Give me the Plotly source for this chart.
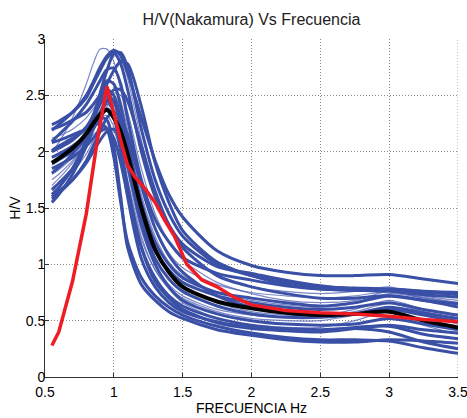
import plotly.graph_objects as go

# Frequency grid (Hz) shared by the blue curves and the mean curve
freq = [0.55, 0.6, 0.7, 0.8, 0.85, 0.9, 0.95, 1.0, 1.05, 1.1, 1.2, 1.3, 1.4, 1.5,
        1.75, 2.0, 2.25, 2.5, 2.75, 3.0, 3.25, 3.5]

# Individual H/V measurements (thick traces)
hv_thick = [
    [2.19, 2.24, 2.35, 2.5, 2.62, 2.75, 2.85, 2.9, 2.85, 2.7, 2.3, 1.92, 1.62, 1.42, 1.12, 0.99, 0.93, 0.9, 0.9, 0.91, 0.87, 0.83],
    [2.24, 2.27, 2.35, 2.48, 2.6, 2.72, 2.83, 2.88, 2.78, 2.55, 2.0, 1.6, 1.35, 1.18, 0.98, 0.92, 0.86, 0.81, 0.78, 0.77, 0.75, 0.74],
    [1.62, 1.68, 1.85, 2.1, 2.3, 2.52, 2.72, 2.87, 2.88, 2.75, 2.2, 1.75, 1.45, 1.25, 1.0, 0.9, 0.84, 0.8, 0.79, 0.78, 0.76, 0.75],
    [2.09, 2.15, 2.27, 2.42, 2.52, 2.63, 2.73, 2.74, 2.6, 2.3, 1.75, 1.4, 1.2, 1.06, 0.92, 0.86, 0.81, 0.78, 0.77, 0.78, 0.76, 0.73],
    [1.55, 1.62, 1.8, 2.05, 2.25, 2.48, 2.63, 2.6, 2.4, 2.1, 1.55, 1.2, 1.0, 0.88, 0.75, 0.7, 0.66, 0.63, 0.66, 0.72, 0.68, 0.62],
    [1.81, 1.86, 1.98, 2.15, 2.28, 2.42, 2.5, 2.45, 2.2, 1.9, 1.4, 1.05, 0.87, 0.76, 0.63, 0.56, 0.53, 0.53, 0.56, 0.62, 0.57, 0.52],
    [1.66, 1.72, 1.85, 2.05, 2.2, 2.35, 2.45, 2.35, 2.05, 1.7, 1.15, 0.85, 0.7, 0.6, 0.48, 0.43, 0.41, 0.4, 0.43, 0.46, 0.42, 0.39],
    [2.01, 2.05, 2.12, 2.2, 2.26, 2.3, 2.28, 2.05, 1.6, 1.15, 0.82, 0.68, 0.58, 0.52, 0.42, 0.37, 0.33, 0.31, 0.31, 0.33, 0.32, 0.30],
    [2.08, 2.1, 2.15, 2.2, 2.23, 2.25, 2.2, 1.95, 1.55, 1.2, 0.88, 0.72, 0.62, 0.55, 0.45, 0.39, 0.35, 0.33, 0.33, 0.32, 0.26, 0.21],
    [1.85, 1.88, 1.95, 2.05, 2.12, 2.18, 2.2, 2.12, 1.9, 1.62, 1.15, 0.88, 0.72, 0.63, 0.52, 0.46, 0.43, 0.42, 0.43, 0.4, 0.31, 0.25],
    [1.58, 1.63, 1.75, 1.92, 2.05, 2.18, 2.3, 2.35, 2.3, 2.15, 1.7, 1.32, 1.08, 0.93, 0.72, 0.62, 0.57, 0.55, 0.56, 0.6, 0.55, 0.49],
    [1.95, 1.98, 2.05, 2.15, 2.23, 2.33, 2.45, 2.55, 2.55, 2.45, 2.05, 1.65, 1.35, 1.15, 0.9, 0.8, 0.74, 0.7, 0.7, 0.72, 0.68, 0.65],
    [2.0, 2.03, 2.1, 2.22, 2.32, 2.45, 2.6, 2.72, 2.8, 2.78, 2.4, 1.9, 1.55, 1.3, 1.02, 0.9, 0.82, 0.78, 0.77, 0.76, 0.73, 0.71],
    [1.6, 1.65, 1.75, 1.9, 2.0, 2.1, 2.18, 2.2, 2.1, 1.88, 1.35, 1.0, 0.8, 0.68, 0.56, 0.5, 0.47, 0.46, 0.47, 0.52, 0.47, 0.42],
    [2.2, 2.22, 2.28, 2.35, 2.42, 2.5, 2.55, 2.5, 2.3, 2.0, 1.45, 1.12, 0.95, 0.84, 0.72, 0.66, 0.62, 0.6, 0.62, 0.66, 0.6, 0.55],
    [1.9, 1.93, 2.0, 2.12, 2.2, 2.3, 2.38, 2.3, 2.0, 1.6, 1.05, 0.8, 0.66, 0.58, 0.49, 0.44, 0.42, 0.41, 0.44, 0.45, 0.38, 0.34],
]

# Individual H/V measurements (thin traces)
hv_thin = [
    [2.0, 2.08, 2.3, 2.6, 2.78, 2.91, 2.91, 2.8, 2.55, 2.25, 1.68, 1.32, 1.1, 0.97, 0.82, 0.75, 0.72, 0.7, 0.72, 0.76, 0.71, 0.66],
    [1.75, 1.8, 1.92, 2.1, 2.22, 2.35, 2.42, 2.35, 2.12, 1.82, 1.3, 1.0, 0.82, 0.72, 0.6, 0.55, 0.53, 0.54, 0.6, 0.68, 0.6, 0.54],
    [1.7, 1.76, 1.9, 2.08, 2.2, 2.3, 2.32, 2.22, 1.98, 1.7, 1.22, 0.95, 0.8, 0.7, 0.58, 0.52, 0.5, 0.5, 0.55, 0.62, 0.55, 0.47],
    [1.88, 1.92, 2.02, 2.2, 2.35, 2.52, 2.62, 2.6, 2.45, 2.2, 1.62, 1.25, 1.02, 0.9, 0.75, 0.68, 0.64, 0.62, 0.65, 0.74, 0.7, 0.64],
    [2.12, 2.14, 2.2, 2.3, 2.38, 2.45, 2.48, 2.42, 2.25, 2.0, 1.5, 1.15, 0.95, 0.82, 0.66, 0.58, 0.55, 0.54, 0.58, 0.65, 0.58, 0.5],
    [1.68, 1.72, 1.82, 1.98, 2.1, 2.25, 2.4, 2.52, 2.5, 2.35, 1.85, 1.45, 1.2, 1.04, 0.84, 0.74, 0.68, 0.66, 0.68, 0.76, 0.7, 0.66],
    [1.95, 1.97, 2.02, 2.1, 2.15, 2.2, 2.22, 2.18, 2.0, 1.75, 1.25, 0.95, 0.78, 0.66, 0.52, 0.46, 0.44, 0.44, 0.5, 0.58, 0.46, 0.38],
    [1.8, 1.84, 1.95, 2.12, 2.28, 2.5, 2.72, 2.85, 2.82, 2.65, 2.1, 1.65, 1.35, 1.15, 0.9, 0.8, 0.76, 0.74, 0.76, 0.8, 0.72, 0.68],
]

# Mean H/V curve (black)
hv_mean = [1.9, 1.94, 2.03, 2.16, 2.25, 2.33, 2.37, 2.3, 2.18, 1.98, 1.5, 1.13, 0.93, 0.8,
           0.67, 0.61, 0.57, 0.55, 0.56, 0.58, 0.5, 0.44]

# Red reference curve
red_freq = [0.55, 0.6, 0.7, 0.8, 0.88, 0.95, 1.05, 1.1, 1.15, 1.22, 1.3, 1.37, 1.44, 1.53,
            1.64, 1.75, 1.87, 2.0, 2.25, 2.5, 2.75, 3.0, 3.25, 3.5]
red_hv = [0.28, 0.4, 0.85, 1.45, 2.1, 2.58, 2.1, 1.88, 1.78, 1.68, 1.55, 1.39, 1.25, 1.0,
          0.86, 0.8, 0.71, 0.64, 0.59, 0.57, 0.56, 0.54, 0.51, 0.49]

x_ticks = [0.5, 1.0, 1.5, 2.0, 2.5, 3.0, 3.5]
x_ticklabels = ["0.5", "1", "1.5", "2", "2.5", "3", "3.5"]
y_ticks = [0, 0.5, 1.0, 1.5, 2.0, 2.5, 3.0]
y_ticklabels = ["0", "0.5", "1", "1.5", "2", "2.5", "3"]

FONT = "Liberation Sans, Arial, sans-serif"

fig = go.Figure()
for ys in hv_thin:
    fig.add_trace(go.Scatter(x=freq, y=ys, mode="lines",
                             line=dict(color="rgba(80,95,180,0.75)", width=1.2, shape="spline", smoothing=0.8),
                             showlegend=False, hoverinfo="skip"))
for ys in hv_thick:
    fig.add_trace(go.Scatter(x=freq, y=ys, mode="lines",
                             line=dict(color="#3A50A6", width=3, shape="spline", smoothing=0.8),
                             showlegend=False, hoverinfo="skip"))
fig.add_trace(go.Scatter(x=freq, y=hv_mean, mode="lines",
                         line=dict(color="black", width=4, shape="spline", smoothing=0.8),
                         showlegend=False))
fig.add_trace(go.Scatter(x=red_freq, y=red_hv, mode="lines",
                         line=dict(color="#EE1C24", width=3.5),
                         showlegend=False))

fig.update_layout(
    width=467, height=418,
    margin=dict(l=45, r=9, t=39, b=41),
    paper_bgcolor="white", plot_bgcolor="white",
    font=dict(family=FONT, size=14, color="black"),
    title=dict(text="H/V(Nakamura) Vs Frecuencia", x=0.5, xref="paper", xanchor="center",
               y=1 - 19 / 418, yref="container", yanchor="middle",
               font=dict(family=FONT, size=16, color="#222")),
    xaxis=dict(range=[0.5, 3.5], tickvals=x_ticks, ticktext=x_ticklabels,
               showgrid=True, gridcolor="#8a8a8a", griddash="1px,2px", gridwidth=1,
               zeroline=False, showline=True, linecolor="#333", linewidth=1,
               ticks="inside", ticklen=4, tickcolor="#333", automargin=False,
               ticklabeloverflow="allow", ticklabelstandoff=2,
               title=dict(text="FRECUENCIA Hz", standoff=0, font=dict(family=FONT, size=14))),
    yaxis=dict(range=[0, 3], tickvals=y_ticks, ticktext=y_ticklabels,
               showgrid=True, gridcolor="#8a8a8a", griddash="1px,2px", gridwidth=1,
               zeroline=False, showline=True, linecolor="#333", linewidth=1,
               ticks="inside", ticklen=4, tickcolor="#333", automargin=False,
               ticklabeloverflow="allow", ticklabelstandoff=-4,
               title=dict(text="H/V", standoff=1, font=dict(family=FONT, size=14))),
)

# Dotted border line at the right of the plot box (grid edge at x=3.5)
fig.add_shape(type="line", xref="x", yref="y", x0=3.5, x1=3.5, y0=0, y1=3,
              line=dict(color="#8a8a8a", width=1, dash="1px,2px"), layer="below")

fig.write_html("out.html", config={"displayModeBar": False},
               post_script="document.body.style.margin='0';document.body.style.padding='0';")
